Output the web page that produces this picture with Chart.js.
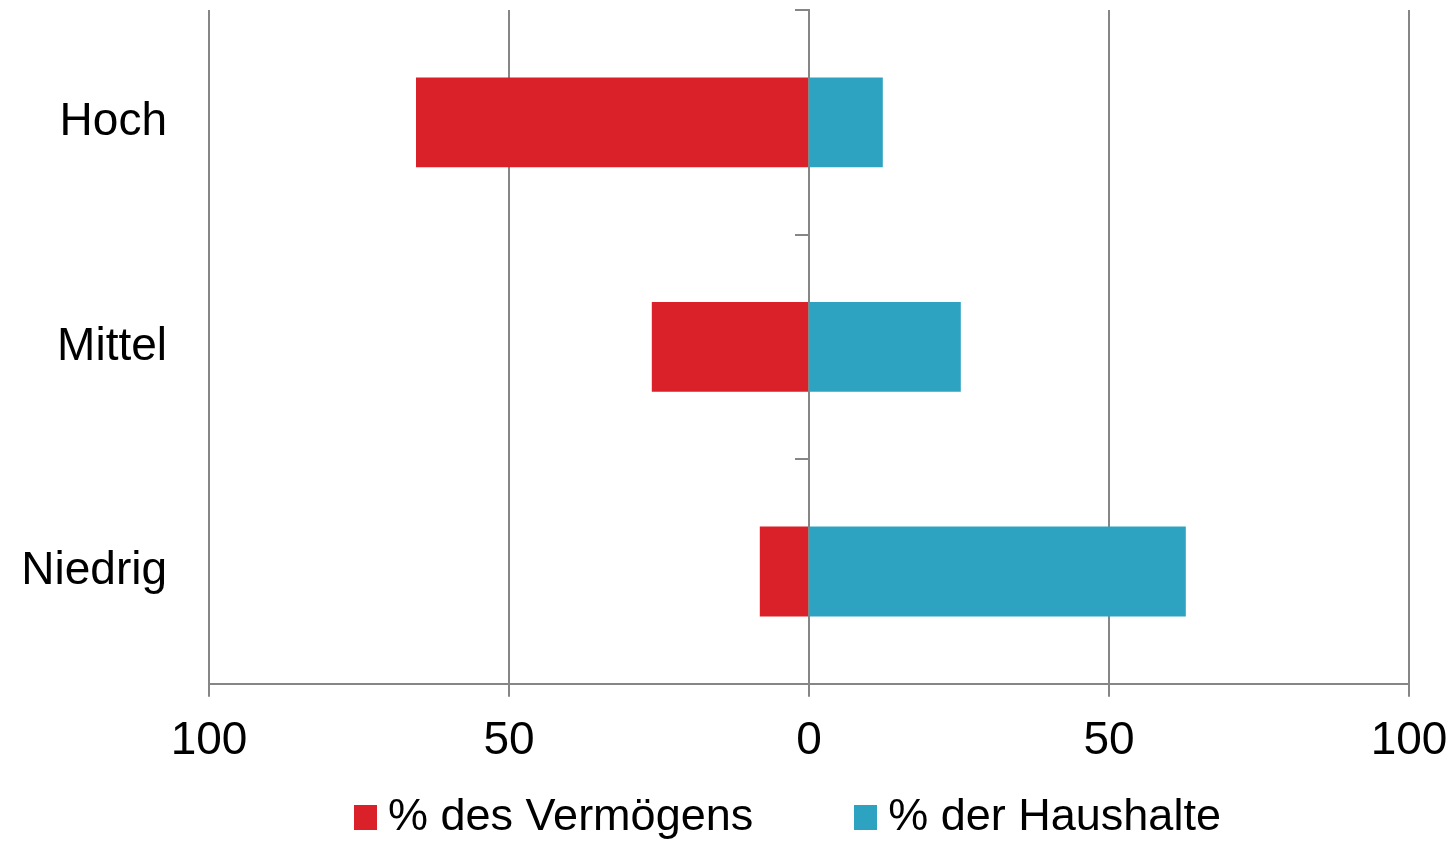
<!DOCTYPE html>
<html>
<head>
<meta charset="utf-8">
<script src="https://cdn.jsdelivr.net/npm/chart.js@4/dist/chart.umd.min.js"></script>
<style>
  html, body { margin: 0; padding: 0; background: #fff; }
  #wrap { position: relative; width: 1455px; height: 845px; }
  #legend {
    position: absolute; left: 354px; top: 792px;
    display: flex; align-items: center;
    font-family: 'Liberation Sans', Arial, sans-serif; font-size: 45px; line-height: 45px;
    color: #000; white-space: nowrap;
  }
  #legend .item { display: flex; align-items: center; }
  #legend .item + .item { margin-left: 101px; }
  #legend .box { width: 23px; height: 25px; margin-right: 11px; margin-top: 6px; }
</style>
</head>
<body>
<div id="wrap">
  <canvas id="chart"></canvas>
  <div id="legend"></div>
</div>
<script>
// Data (percent)
const categories = ['Hoch', 'Mittel', 'Niedrig'];
const vermoegen = [65.5, 26.2, 8.2];      // drawn to the left
const haushalte = [12.3, 25.3, 62.8];     // drawn to the right
const tickValues = [-100, -50, 0, 50, 100];

const gridGrey = '#868686';
const fontFamily = 'Liberation Sans, Arial, sans-serif';

// short ticks on the left side of the zero line, one per category boundary
const zeroTicks = {
  id: 'zeroTicks',
  afterDatasetsDraw(chart) {
    const { ctx, scales: { x, y } } = chart;
    const x0 = x.getPixelForValue(0);
    const step = y.getPixelForValue(1) - y.getPixelForValue(0);
    ctx.save();
    ctx.strokeStyle = gridGrey;
    ctx.lineWidth = 2;
    for (let i = 0; i < categories.length; i++) {
      const yy = Math.round(y.getPixelForValue(i) - step / 2);
      ctx.beginPath();
      ctx.moveTo(x0 - 14, yy);
      ctx.lineTo(x0 + 1, yy);
      ctx.stroke();
    }
    ctx.restore();
  }
};

const ctx = document.getElementById('chart').getContext('2d');
const chart = new Chart(ctx, {
  type: 'bar',
  data: {
    labels: categories,
    datasets: [{
      label: '% des Vermögens',
      data: vermoegen.map(v => -v),
      backgroundColor: '#da2029',
      barPercentage: 0.4,
      categoryPercentage: 1
    }, {
      label: '% der Haushalte',
      data: haushalte,
      backgroundColor: '#2ea3c1',
      barPercentage: 0.4,
      categoryPercentage: 1
    }]
  },
  options: {
    indexAxis: 'y',
    responsive: true,
    maintainAspectRatio: false,
    animation: false,
    layout: { padding: { top: 10, right: 46, bottom: 59, left: 0 } },
    scales: {
      x: {
        stacked: true,
        min: -100,
        max: 100,
        afterBuildTicks: (scale) => { scale.ticks = tickValues.map(v => ({ value: v })); },
        afterFit: (scale) => {
          scale.paddingLeft = 0;
          scale.paddingRight = 0;
        },
        ticks: {
          callback: (v) => Math.abs(v),
          color: '#000',
          font: { family: fontFamily, size: 46 },
          padding: 17,
          maxRotation: 0
        },
        grid: { color: gridGrey, lineWidth: 2, tickLength: 13 },
        border: { color: gridGrey, width: 2 }
      },
      y: {
        stacked: true,
        afterFit: (scale) => {
          scale.width = 209;
          scale.paddingTop = 0;
          scale.paddingBottom = 0;
        },
        ticks: {
          color: '#000',
          font: { family: fontFamily, size: 46 },
          padding: 42
        },
        grid: { display: false, drawTicks: false },
        border: { display: false }
      }
    },
    plugins: {
      legend: { display: false },
      tooltip: { enabled: false }
    }
  },
  plugins: [zeroTicks]
});

// HTML legend built from the datasets
const legendEl = document.getElementById('legend');
chart.data.datasets.forEach((ds) => {
  const item = document.createElement('span');
  item.className = 'item';
  const box = document.createElement('span');
  box.className = 'box';
  box.style.background = ds.backgroundColor;
  const label = document.createElement('span');
  label.textContent = ds.label;
  item.appendChild(box);
  item.appendChild(label);
  legendEl.appendChild(item);
});
</script>
</body>
</html>
